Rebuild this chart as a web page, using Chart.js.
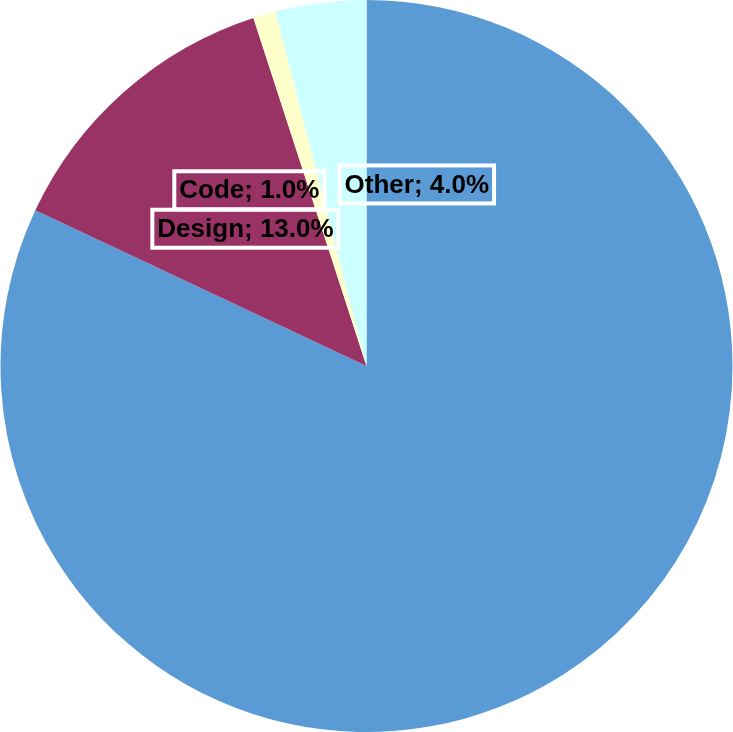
<!DOCTYPE html>
<html>
<head>
<meta charset="utf-8">
<style>
  html, body { margin: 0; padding: 0; background: #fff; }
  #wrap { width: 733px; height: 732px; }
</style>
<script src="https://cdn.jsdelivr.net/npm/chart.js@4"></script>
</head>
<body>
<div id="wrap"><canvas id="myPieChart"></canvas></div>
<script>
var categories = ['Development', 'Design', 'Code', 'Other'];
var shares = [82, 13, 1, 4];
var sliceColors = ['#5b9bd5', '#993366', '#ffffcc', '#ccffff'];
var labelAlign = ['center', 'center', 'right', 'left'];

// draws "Name; x.x%" boxes inside the slices (the big slice has none)
var sliceLabels = {
  id: 'sliceLabels',
  afterDatasetsDraw: function (chart) {
    var ctx = chart.ctx;
    var meta = chart.getDatasetMeta(0);
    ctx.save();
    ctx.font = 'bold 26px "Liberation Sans", Arial, sans-serif';
    ctx.textBaseline = 'middle';
    meta.data.forEach(function (arc, i) {
      if (i === 0) return;
      var p = arc.getProps(['x', 'y', 'startAngle', 'endAngle', 'outerRadius'], true);
      var mid = (p.startAngle + p.endAngle) / 2;
      var r = p.outerRadius * 0.5;
      var ax = p.x + Math.cos(mid) * r;
      var ay = p.y + Math.sin(mid) * r;
      var text = categories[i] + '; ' + shares[i].toFixed(1) + '%';
      var w = ctx.measureText(text).width;
      var left;
      if (labelAlign[i] === 'right') left = ax + 4 - w;
      else if (labelAlign[i] === 'left') left = ax + 1;
      else left = ax - w / 2;
      ctx.strokeStyle = '#fff';
      ctx.lineWidth = 4;
      ctx.strokeRect(left - 5, ay - 19, w + 10, 38);
      ctx.fillStyle = '#000';
      ctx.textAlign = 'left';
      ctx.fillText(text, left, ay + 1);
    });
    ctx.restore();
  }
};

document.addEventListener('DOMContentLoaded', function () {
  var ctx = document.getElementById('myPieChart').getContext('2d');
  new Chart(ctx, {
    type: 'pie',
    data: {
      labels: categories,
      datasets: [{
        data: shares,
        backgroundColor: sliceColors,
        borderWidth: 0
      }]
    },
    options: {
      responsive: true,
      maintainAspectRatio: false,
      animation: false,
      layout: { padding: 0 },
      plugins: {
        legend: { display: false },
        tooltip: { enabled: false }
      }
    },
    plugins: [sliceLabels]
  });
});
</script>
</body>
</html>
